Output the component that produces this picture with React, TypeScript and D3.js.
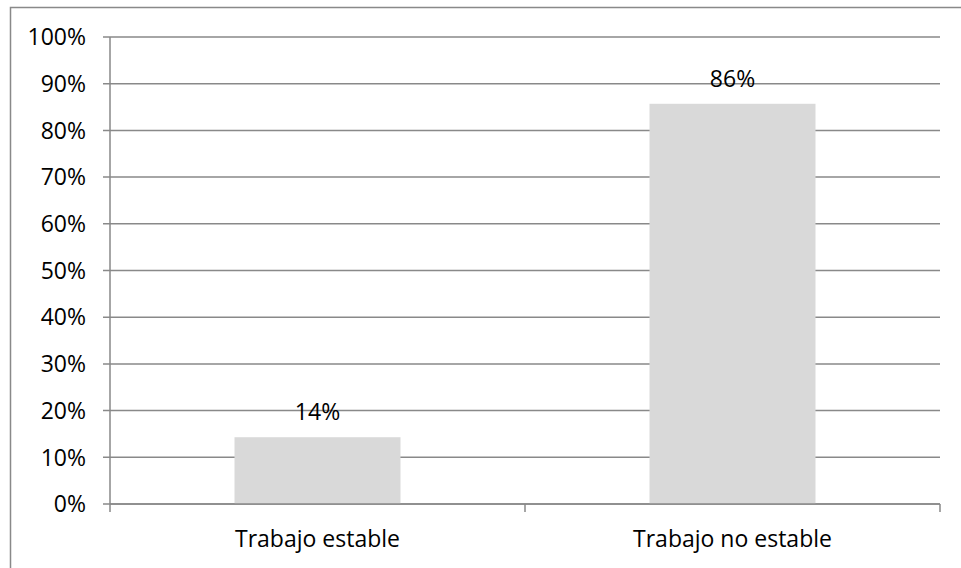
import React from "react";
import * as d3 from "d3";

const categories = ["Trabajo estable", "Trabajo no estable"];
const values = [0.143, 0.857];
const valueLabels = ["14%", "86%"];
const yTicks = [0, 0.1, 0.2, 0.3, 0.4, 0.5, 0.6, 0.7, 0.8, 0.9, 1.0];

const W = 961;
const H = 568;
const left = 110;
const right = 940;
const top = 37;
const bottom = 504;
const FONT = "'Open Sans', sans-serif";
const FS = 23;
const GRID = "#898989";

export default function App() {
  const x = d3.scaleBand<string>().domain(categories).range([left, right]).paddingInner(0.6).paddingOuter(0.3);
  const y = d3.scaleLinear().domain([0, 1]).range([bottom, top]);
  const xb = d3.scaleBand<string>().domain(categories).range([left, right]);
  const fmt = d3.format(".0%");
  return (
    <svg width={W} height={H} style={{ position: "absolute", left: 0, top: 0 }}>
      <rect x={0} y={0} width={W} height={H} fill="#fff" />
      <rect x={10.5} y={7.5} width={W + 10} height={H + 10} fill="none" stroke={GRID} strokeWidth={1.5} />
      {yTicks.map((t) => (
        <g key={t}>
          <line x1={left - 7} x2={right} y1={y(t)} y2={y(t)} stroke={GRID} strokeWidth={1.5} />
          <text x={86} y={y(t)} dy="0.36em" textAnchor="end" fontFamily={FONT} fontSize={FS} fill="#000">
            {fmt(t)}
          </text>
        </g>
      ))}
      <line x1={left} x2={left} y1={top} y2={bottom} stroke={GRID} strokeWidth={1.5} />
      {[...categories.map((c) => xb(c)!), right].map((px, i) => (
        <line key={i} x1={px} x2={px} y1={bottom} y2={bottom + 8} stroke={GRID} strokeWidth={1.5} />
      ))}
      {categories.map((c, i) => (
        <g key={c}>
          <rect x={x(c)} y={y(values[i])} width={x.bandwidth()} height={bottom - y(values[i])} fill="#d9d9d9" />
          <text x={x(c)! + x.bandwidth() / 2} y={y(values[i]) - 17} textAnchor="middle" fontFamily={FONT} fontSize={FS} fill="#000">
            {valueLabels[i]}
          </text>
          <text x={x(c)! + x.bandwidth() / 2} y={547} textAnchor="middle" fontFamily={FONT} fontSize={FS} fill="#000">
            {c}
          </text>
        </g>
      ))}
      <line x1={left} x2={right} y1={bottom} y2={bottom} stroke={GRID} strokeWidth={1.5} />
    </svg>
  );
}
